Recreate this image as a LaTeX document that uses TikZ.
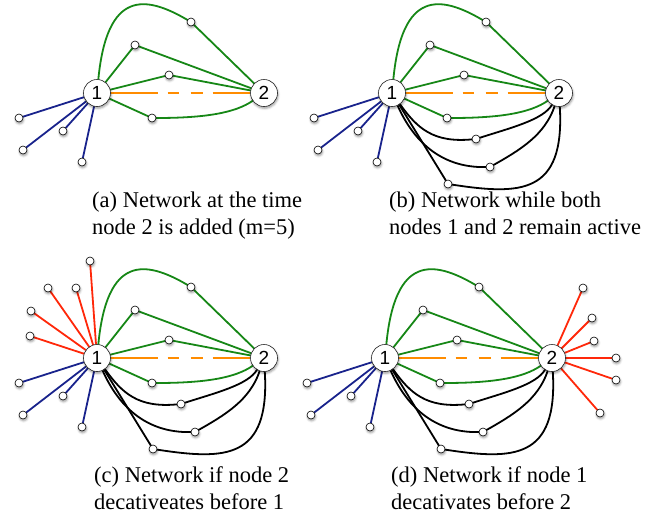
\documentclass[tikz,border=0pt]{standalone}
\usepackage{fontspec}
\setmainfont{Liberation Serif}
\newfontfamily\hubfont{Liberation Sans}
\usetikzlibrary{shadows.blur}

\definecolor{edgegreen}{RGB}{22,135,22}
\definecolor{edgeblue}{RGB}{25,35,140}
\definecolor{edgeorange}{RGB}{255,140,0}
\definecolor{edgered}{RGB}{255,40,10}

\tikzset{
  softshadow/.style={blur shadow={shadow xshift=0.6pt, shadow yshift=-1.8pt,
      shadow blur radius=2.2pt, shadow opacity=40}},
  % place holders that fix the positions and borders of the vertices
  hubspot/.style={circle, minimum size=27pt, inner sep=0pt},
  leafspot/.style={circle, minimum size=8pt, inner sep=0pt},
  % the vertices as drawn, on top of the links
  hub/.style={hubspot, draw=black!85, line width=0.6pt, fill=white, softshadow,
      font=\hubfont\fontsize{19}{19}\selectfont},
  leaf/.style={leafspot, draw=black, line width=0.6pt, fill=white, softshadow},
  link/.style={line width=1.8pt, line join=round, line cap=round},
  caption/.style={anchor=base west, inner sep=0pt,
      font=\fontsize{22.5}{27}\selectfont},
}

% positions of the vertices shared by every panel
\newcommand\corespots[1]{%
  \node[hubspot] (#1n1) at (97,93) {};
  \node[hubspot] (#1n2) at (264,93) {};
  \node[leafspot] (#1g1) at (191,22) {};
  \node[leafspot] (#1g2) at (135,45) {};
  \node[leafspot] (#1g3) at (169,75) {};
  \node[leafspot] (#1g4) at (152,118) {};
  \node[leafspot] (#1b1) at (19,118) {};
  \node[leafspot] (#1b2) at (23,150) {};
  \node[leafspot] (#1b3) at (63,131) {};
  \node[leafspot] (#1b4) at (82,162) {};
}
% green paths, orange link and the blue leaves of node 1
\newcommand\corelinks[1]{%
  \draw[link, edgegreen] (#1n1) .. controls (107,-10) and (145,-5) .. (#1g1) -- (#1n2);
  \draw[link, edgegreen] (#1n1) -- (#1g2) -- (#1n2);
  \draw[link, edgegreen] (#1n1) -- (#1g3) -- (#1n2);
  \draw[link, edgegreen] (#1n1) -- (#1g4) .. controls (205,118) and (235,113) .. (#1n2);
  \draw[link, edgeorange, line cap=butt,
        dash pattern=on 47pt off 10pt on 11pt off 12pt on 12pt off 10pt on 80pt]
        (#1n1) -- (#1n2);
  \foreach \k in {1,...,4} \draw[link, edgeblue] (#1n1) -- (#1b\k);
}
\newcommand\corenodes[1]{%
  \node[hub] (#1v1) at (#1n1) {1};
  \node[hub] (#1v2) at (#1n2) {2};
  \foreach \k in {g1,g2,g3,g4,b1,b2,b3,b4} \node[leaf] (#1v\k) at (#1\k) {};
}

% the three black paths from node 1 to node 2
\newcommand\blackspots[1]{%
  \node[leafspot] (#1k1) at (181,139) {};
  \node[leafspot] (#1k2) at (195,167) {};
  \node[leafspot] (#1k3) at (153,184) {};
}
\newcommand\blacklinks[1]{%
  \draw[link, black] (#1n1) .. controls (122,128) and (138,143) .. (#1k1)
        .. controls (215,128) and (248,120) .. (#1n2);
  \draw[link, black] (#1n1) .. controls (118,140) and (145,168) .. (#1k2)
        .. controls (225,150) and (250,135) .. (#1n2);
  \draw[link, black] (#1n1) -- (#1k3)
        .. controls (225,195) and (270,195) .. (#1n2);
}
\newcommand\blacknodes[1]{%
  \foreach \k in {k1,k2,k3} \node[leaf] (#1v\k) at (#1\k) {};
}

\begin{document}
\begin{tikzpicture}[x=1pt, y=-1pt]
  \useasboundingbox (0,0) rectangle (664,520);

  % (a)
  \begin{scope}
    \corespots{a}
    \corelinks{a}
    \corenodes{a}
  \end{scope}

  % (b)
  \begin{scope}[shift={(295,0)}]
    \corespots{b}\blackspots{b}
    \corelinks{b}\blacklinks{b}
    \corenodes{b}\blacknodes{b}
  \end{scope}

  % (c): red leaves gathered by node 1
  \begin{scope}[shift={(0,265)}]
    \corespots{c}\blackspots{c}
    \node[leafspot] (cr1) at (90,-4) {};
    \node[leafspot] (cr2) at (48,23) {};
    \node[leafspot] (cr3) at (76,23) {};
    \node[leafspot] (cr4) at (31,46) {};
    \node[leafspot] (cr5) at (30,71) {};
    \corelinks{c}\blacklinks{c}
    \foreach \k in {1,...,5} \draw[link, edgered] (cn1) -- (cr\k);
    \corenodes{c}\blacknodes{c}
    \foreach \k in {1,...,5} \node[leaf] (cvr\k) at (cr\k) {};
  \end{scope}

  % (d): red leaves gathered by node 2
  \begin{scope}[shift={(288,265)}]
    \corespots{d}\blackspots{d}
    \node[leafspot] (dr1) at (295,23) {};
    \node[leafspot] (dr2) at (304,53) {};
    \node[leafspot] (dr3) at (306,76) {};
    \node[leafspot] (dr4) at (328,93) {};
    \node[leafspot] (dr5) at (328,115) {};
    \node[leafspot] (dr6) at (312,148) {};
    \corelinks{d}\blacklinks{d}
    \foreach \k in {1,...,6} \draw[link, edgered] (dn2) -- (dr\k);
    \corenodes{d}\blacknodes{d}
    \foreach \k in {1,...,6} \node[leaf] (dvr\k) at (dr\k) {};
  \end{scope}

  % captions
  \node[caption] (capa1) at (92,207) {(a) Network at the time};
  \node[caption] (capa2) at (92,234) {node 2 is added (m=5)};
  \node[caption] (capb1) at (389,207) {(b) Network while both};
  \node[caption] (capb2) at (389,234) {nodes 1 and 2 remain active};
  \node[caption] (capc1) at (94,482) {(c) Network if node 2};
  \node[caption] (capc2) at (94,509) {decativeates before 1};
  \node[caption] (capd1) at (391,482) {(d) Network if node 1};
  \node[caption] (capd2) at (391,509) {decativates before 2};
\end{tikzpicture}
\end{document}
